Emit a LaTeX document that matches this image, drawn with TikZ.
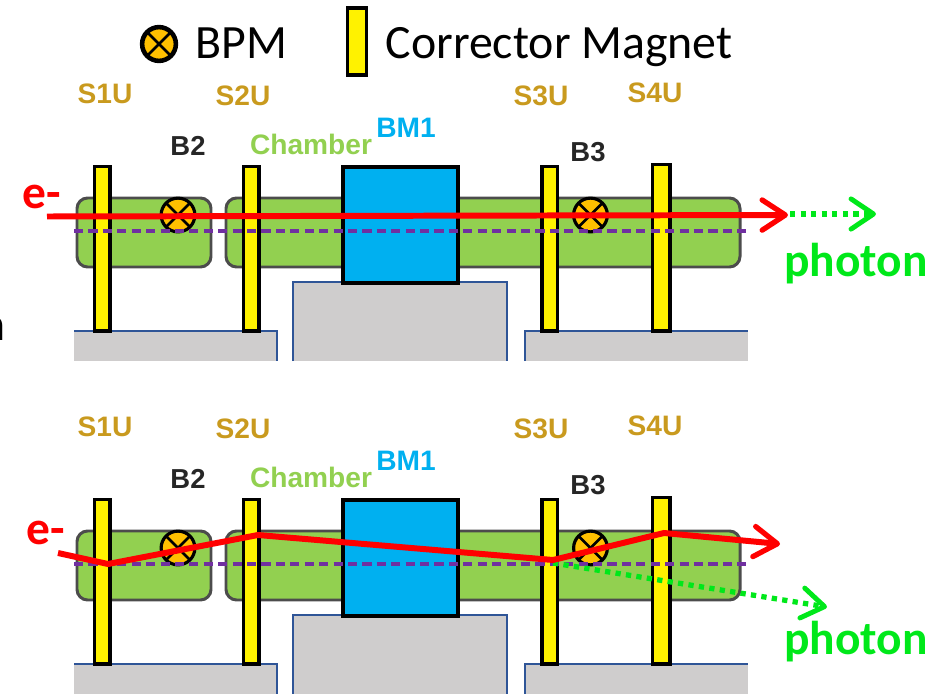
\documentclass[tikz,border=0pt]{standalone}
\usepackage{fontspec}
\setmainfont{Carlito}
\newfontfamily\labelfont{Liberation Sans}
\usetikzlibrary{arrows.meta}
\definecolor{chambergreen}{HTML}{92D050}
\definecolor{magnetblue}{HTML}{00B0F0}
\definecolor{standgray}{HTML}{CFCDCD}
\definecolor{standblue}{HTML}{2F5597}
\definecolor{orbitpurple}{HTML}{7030A0}
\definecolor{stationgold}{HTML}{C99A1E}
\definecolor{bpmorange}{HTML}{FFC000}
\definecolor{photongreen}{HTML}{00E81A}
\tikzset{
    stationlabel/.style={font=\labelfont\bfseries\fontsize{8}{8}\selectfont, text=stationgold, inner sep=0},
    bpmlabel/.style={font=\labelfont\bfseries\fontsize{7.8}{8}\selectfont, text=black!85, inner sep=0},
    bpmsym/.style={circle, draw, line width=0.9pt, fill=bpmorange, minimum size=9.6pt, inner sep=0,
        path picture={
            \draw[line width=0.8pt] (path picture bounding box.north west) -- (path picture bounding box.south east);
            \draw[line width=0.8pt] (path picture bounding box.north east) -- (path picture bounding box.south west);
        }},
    corrector/.style={draw, line width=0.9pt, fill=yellow},
    chamber/.style={draw=black!70, line width=0.85pt, fill=chambergreen, rounded corners=3pt},
    stand/.style={draw=standblue, line width=0.75pt},
    orbit/.style={orbitpurple, line width=1pt, dash pattern=on 2.6pt off 1.5pt},
    beam/.style={red, line width=1.7pt, -{Straight Barb[length=6.6pt, width=8.6pt, line width=1.5pt, round]}},
    lightbeam/.style={photongreen, line width=1.5pt, dash pattern=on 1.5pt off 1.5pt,
        -{Straight Barb[length=6.4pt, width=8.6pt, line width=1.4pt, round]}},
    bigtext/.style={font=\fontsize{13.6}{14}\selectfont, inner sep=0},
    colortext/.style={font=\bfseries\fontsize{13.5}{14}\selectfont, inner sep=0},
}
\begin{document}
\begin{tikzpicture}[x=0.01cm, y=-0.01cm]
\useasboundingbox (0, 0) rectangle (948, 694);
% legend
\node[bpmsym, line width=1.3pt] (bpmkey) at (159, 44) {};
\node[bigtext, anchor=base west] (bpmtext) at (195, 58) {BPM};
\node[corrector, line width=1.1pt, minimum width=5.4pt, minimum height=19pt, inner sep=0] (corrkey) at (357, 41.5) {};
\node[bigtext, anchor=base west] (corrtext) at (385, 58) {Corrector Magnet};
\node[bigtext, anchor=base east] (cutoff) at (6, 340) {n};
% both panels
\foreach \p/\dy in {a/0, b/333} {
\begin{scope}[shift={(0, \dy)}]
    \node[stationlabel] (s1-\p) at (105, 93.5) {S1U};
    \node[stationlabel] (s2-\p) at (243, 95.5) {S2U};
    \node[stationlabel] (s3-\p) at (541, 95.5) {S3U};
    \node[stationlabel] (s4-\p) at (655, 93) {S4U};
    \node[bpmlabel] (b2-\p) at (188, 146) {B2};
    \node[bpmlabel] (b3-\p) at (588, 152.5) {B3};
    \node[stationlabel, text=chambergreen] (chamberlabel-\p) at (311, 144) {Chamber};
    \node[stationlabel, text=magnetblue] (bmlabel-\p) at (406, 128) {BM1};
    % stands
    \fill[standgray] (74, 331) -- (278, 331) -- (278, 361) -- (74, 361) -- cycle;
    \fill[standgray] (293, 282) rectangle (507, 361);
    \fill[standgray] (525, 331) rectangle (748, 361);
    \draw[stand] (74, 331) -- (277, 331) -- (277, 361);
    \draw[stand] (293, 361) -- (293, 282) -- (507, 282) -- (507, 361);
    \draw[stand] (525, 361) -- (525, 331) -- (748, 331);
    % chambers
    \draw[chamber] (77, 198) rectangle (211, 267);
    \draw[chamber] (226, 198) rectangle (740, 267);
    \draw[line width=0.9pt, fill=magnetblue] (343, 167) rectangle (458, 283);
    \node[bpmsym] (bpm2-\p) at (178, 215) {};
    \node[bpmsym] (bpm3-\p) at (590.5, 215) {};
    % correctors
    \draw[corrector] (94.5, 166.5) rectangle (110, 331);
    \draw[corrector] (243.5, 166.5) rectangle (259, 331);
    \draw[corrector] (542, 166.5) rectangle (557.5, 331);
    \draw[corrector] (652.5, 164.5) rectangle (670, 331);
    \draw[orbit] (74, 231) -- (748, 231);
\end{scope}
}
% undeflected beam
\coordinate (ina) at (47, 216.5);
\coordinate (outa) at (788, 215);
\coordinate (gammaa) at (790, 214);
\coordinate (enda) at (876, 214);
\draw[lightbeam] (gammaa) -- (enda);
\draw[beam] (ina) -- (outa);
\node[colortext, text=red] (ea) at (41.5, 197) {e-};
\node[colortext, text=photongreen] (photona) at (856, 264) {photon};
% deflected beam
\coordinate (inb) at (58, 553);
\coordinate (k1) at (108, 564);
\coordinate (k2) at (258, 535);
\coordinate (k3) at (553, 560);
\coordinate (k4) at (664, 533);
\coordinate (outb) at (780, 544);
\coordinate (gammab) at (553, 563);
\coordinate (endb) at (827, 607);
\draw[lightbeam] (gammab) -- (endb);
\draw[beam] (inb) -- (k1) -- (k2) -- (k3) -- (k4) -- (outb);
\node[colortext, text=red] (eb) at (46, 533) {e-};
\node[colortext, text=photongreen] (photonb) at (856, 642) {photon};
\end{tikzpicture}
\end{document}
